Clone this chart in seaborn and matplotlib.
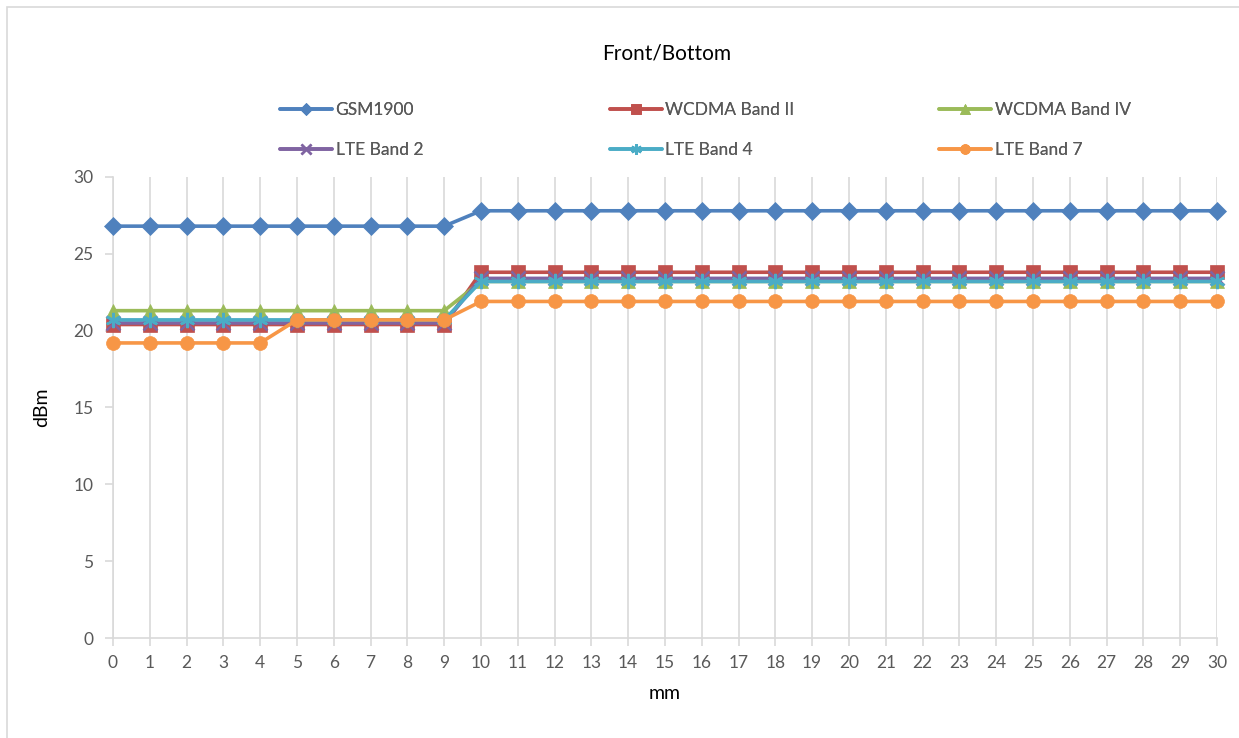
import numpy as np
import pandas as pd
import matplotlib
matplotlib.use("Agg")
import matplotlib.pyplot as plt
import seaborn as sns
from matplotlib.patches import Rectangle

# distance in mm
mm = list(range(31))

gsm1900 = [26.8] * 10 + [27.8] * 21
wcdma_b2 = [20.4] * 10 + [23.8] * 21
wcdma_b4 = [21.3] * 10 + [23.2] * 21
lte_b2 = [20.5] * 10 + [23.4] * 21
lte_b4 = [20.7] * 10 + [23.2] * 21
lte_b7 = [19.2] * 5 + [20.7] * 5 + [21.9] * 21

series_names = ["GSM1900", "WCDMA Band II", "WCDMA Band IV",
                "LTE Band 2", "LTE Band 4", "LTE Band 7"]
series_vals = [gsm1900, wcdma_b2, wcdma_b4, lte_b2, lte_b4, lte_b7]

colors = ["#4F81BD", "#C0504D", "#9BBB59", "#8064A2", "#4BACC6", "#F79646"]
markers = ["D", "s", "^", "x", (6, 2, 0), "o"]
msizes = [9, 10, 10, 10, 11, 10]

sns.set_style("white")
plt.rcParams["font.family"] = ["Lato", "DejaVu Sans"]

fig = plt.figure(figsize=(12.39, 7.38), dpi=100)
ax = fig.add_axes([0.0912, 0.1355, 0.891, 0.6247])

for name, vals, c, m, ms in zip(series_names, series_vals, colors, markers, msizes):
    df = pd.DataFrame({"mm": mm, "dBm": vals})
    sns.lineplot(data=df, x="mm", y="dBm", ax=ax, color=c, linewidth=2.6,
                 marker=m, markersize=ms, markeredgecolor=c,
                 markeredgewidth=1.8 if m in ("x", (6, 2, 0)) else 0.5,
                 label=name, clip_on=False, zorder=3)

ax.set_xlim(0, 30)
ax.set_ylim(0, 30)
ax.set_xticks(mm)
ax.set_yticks(range(0, 31, 5))
ax.grid(axis="x", color="#d9d9d9", linewidth=1.2)
ax.grid(axis="y", visible=False)
for s in ["top", "right"]:
    ax.spines[s].set_visible(False)
for s in ["left", "bottom"]:
    ax.spines[s].set_color("#d9d9d9")
    ax.spines[s].set_linewidth(1.2)
ax.tick_params(axis="both", colors="#d9d9d9", length=6, width=1.2,
               labelcolor="#595959", labelsize=12.5)
ax.tick_params(axis="x", pad=6)
ax.tick_params(axis="y", left=True, direction="out", pad=8)
ax.tick_params(axis="x", bottom=True, direction="out")
ax.set_xlabel("mm", fontsize=14, color="#000000", labelpad=10)
ax.set_ylabel("dBm", fontsize=14, color="#000000", labelpad=17)

ax.get_legend().remove()
h, l = ax.get_legend_handles_labels()
# legend: three fixed-position columns, two rows each
col_x = [0.226, 0.492, 0.758]
for k, x0 in enumerate(col_x):
    idx = [k, k + 3]
    leg = fig.legend([h[i] for i in idx], [l[i] for i in idx], ncol=1,
                     loc="center left", bbox_to_anchor=(x0, 0.824),
                     frameon=False, fontsize=12.5, handlelength=3.0,
                     handletextpad=0.2, labelspacing=1.4, markerscale=0.7,
                     labelcolor="#595959", borderpad=0, borderaxespad=0)
    fig.add_artist(leg)

fig.text(0.538, 0.928, "Front/Bottom", ha="center", va="center",
         fontsize=15, color="#000000")

fig.patches.append(Rectangle((0.006, -0.01), 1.0, 1.0, transform=fig.transFigure,
                             fill=False, edgecolor="#d9d9d9", linewidth=1.2))

fig.savefig("out.png", dpi=100)
